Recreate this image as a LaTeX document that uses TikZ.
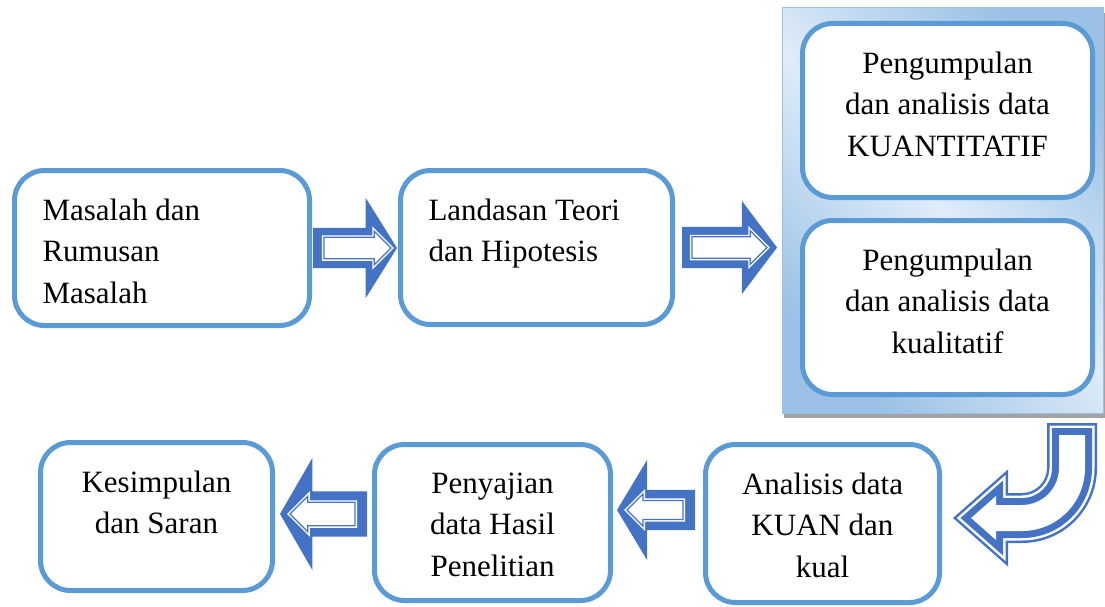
\documentclass[tikz,border=0pt]{standalone}
\usepackage{fontspec}
\setmainfont{Liberation Serif}
\usetikzlibrary{shapes.arrows,shadows}

\definecolor{boxblue}{RGB}{91,155,213}
\definecolor{arrowblue}{RGB}{68,114,196}
\definecolor{panellight}{RGB}{224,236,248}
\definecolor{paneldark}{RGB}{155,194,230}

% text of a box, top aligned: width, height (stroke centre), text
\newcommand{\boxtext}[3]{\parbox[c][\dimexpr#2pt-56pt\relax][t]{\dimexpr#1pt-56pt\relax}{#3}}

% bent block arrow, origin at its tip: colour, inset
\newcommand{\uturn}[2]{%
  \fill[#1] ({94+#2},{-95+#2}) -- ({144-#2},{-95+#2}) -- ({144-#2},-50)
    arc[start angle=0, end angle=90, radius={75-#2}] -- ({55-#2},{25-#2})
    -- ({55-#2},{48.5-2.21*#2}) -- ({1.51*#2},0) -- ({55-#2},{-48.5+2.21*#2})
    -- ({55-#2},{-25+#2}) -- (69,{-25+#2})
    arc[start angle=90, end angle=0, radius={25+#2}] -- cycle;}

\begin{document}
\begin{tikzpicture}[x=1pt, y=-1pt,
    box/.style={draw=boxblue, line width=5pt, rounded corners=30pt, fill=white,
      inner sep=28pt, outer sep=0pt, font=\fontsize{31pt}{41.5pt}\selectfont},
    panel/.style={left color=paneldark, right color=paneldark, middle color=panellight,
      shading angle=-45, draw=paneldark, line width=1pt, inner sep=0pt, outer sep=0pt,
      drop shadow={shadow xshift=2pt, shadow yshift=-5pt, fill=black!45, opacity=.8}},
    blockarrow/.style={single arrow, fill=arrowblue, inner xsep=0pt, inner ysep=20pt,
      outer sep=0pt, anchor=tail},
    arrowcore/.style={single arrow, fill=white, draw=white, double=arrowblue,
      line width=1.4pt, double distance=1.3pt, inner xsep=0pt, inner ysep=10pt,
      outer sep=0pt, anchor=tail, minimum width=32pt, single arrow head extend=6pt,
      single arrow tip angle=90}]
  \useasboundingbox (0,0) rectangle (1105,607);

  % top row
  \node[box] (masalah) at (162,248)
    {\boxtext{295}{155}{\raggedright Masalah dan\\Rumusan\\Masalah}};
  \node[box] (landasan) at (536.5,247.5)
    {\boxtext{272}{154}{\raggedright Landasan Teori\\dan Hipotesis}};
  \node[panel, minimum width=321pt, minimum height=405pt] (panel) at (942.5,210.5) {};
  \node[box] (kuan) at (947.5,110.5)
    {\boxtext{290}{174}{\centering Pengumpulan\\dan analisis data\\KUANTITATIF}};
  \node[box] (kual) at (947.5,307.5)
    {\boxtext{290}{174}{\centering Pengumpulan\\dan analisis data\\kualitatif}};

  % bottom row
  \node[box] (analisis) at (822.5,523.5)
    {\boxtext{234}{158}{\centering Analisis data\\KUAN dan\\kual}};
  \node[box] (penyajian) at (492.5,522.5)
    {\boxtext{236}{156}{\centering Penyajian\\data Hasil\\Penelitian}};
  \node[box] (kesimpulan) at (156.5,516.5)
    {\boxtext{232}{148}{\centering Kesimpulan\\dan Saran}};

  % arrows
  \node[blockarrow, minimum height=84pt, minimum width=100pt,
    single arrow head extend=30pt, single arrow tip angle=116]
    (ml) at ([xshift=3.5pt]masalah.east) {};
  \node[arrowcore, minimum height=67pt] (ml-in) at ([xshift=11pt]ml.tail) {};

  \node[blockarrow, minimum height=95pt, minimum width=93pt, inner ysep=20.5pt,
    single arrow head extend=26pt, single arrow tip angle=106]
    (lp) at ([xshift=9.5pt]landasan.east) {};
  \node[arrowcore, minimum height=75pt] (lp-in) at ([xshift=10pt]lp.tail) {};

  \node[blockarrow, minimum height=78pt, minimum width=100pt, shape border rotate=180,
    single arrow head extend=30pt, single arrow tip angle=118]
    (ap) at ([xshift=-10.5pt, yshift=13.5pt]analisis.west) {};
  \node[arrowcore, minimum height=56pt, inner ysep=8pt, shape border rotate=180]
    (ap-in) at ([xshift=-12pt]ap.tail) {};

  \node[blockarrow, minimum height=87pt, minimum width=112pt, inner ysep=22.5pt,
    shape border rotate=180, single arrow head extend=33.5pt, single arrow tip angle=120]
    (pk) at ([xshift=-7.5pt, yshift=8.5pt]penyajian.west) {};
  \node[arrowcore, minimum height=65pt, inner ysep=11pt, shape border rotate=180]
    (pk-in) at ([xshift=-12pt]pk.tail) {};

  % bent arrow from the panel to analisis
  \begin{scope}[shift={(analisis.east)}, xshift=13.5pt, yshift=5.5pt]
    \uturn{arrowblue}{0}
    \uturn{white}{2.5}
    \uturn{arrowblue}{5}
    \uturn{white}{12}
  \end{scope}
\end{tikzpicture}
\end{document}
